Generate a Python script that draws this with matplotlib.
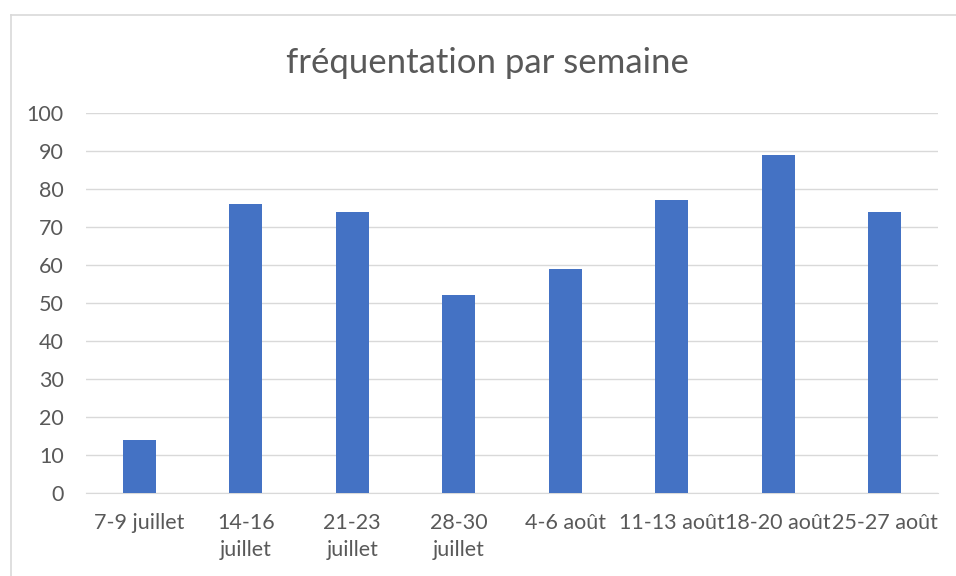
import matplotlib.pyplot as plt
from matplotlib.lines import Line2D

semaines = ["7-9 juillet", "14-16\njuillet", "21-23\njuillet", "28-30\njuillet",
            "4-6 août", "11-13 août", "18-20 août", "25-27 août"]
frequentation = [14, 76, 74, 52, 59, 77, 89, 74]
graduations = list(range(0, 101, 10))

plt.rcParams["font.family"] = ["Lato", "DejaVu Sans"]

fig = plt.figure(figsize=(9.56, 5.76), dpi=100)
ax = fig.add_axes([0.09, 0.144, 0.891, 0.66])

x = list(range(len(semaines)))
ax.bar(x, frequentation, width=0.31, color="#4472C4", zorder=3)

ax.set_xlim(-0.5, len(semaines) - 0.5)
ax.set_ylim(0, 100)
ax.set_yticks(graduations)
ax.set_xticks(x)
ax.set_xticklabels(semaines, fontsize=15.5, color="#595959", va="top", linespacing=1.45)
ax.tick_params(axis="y", labelsize=15.5, labelcolor="#595959", length=0, pad=16)
ax.tick_params(axis="x", length=0, pad=14)

ax.grid(axis="y", color="#D9D9D9", linewidth=1, zorder=0)
for s in ["top", "right", "left"]:
    ax.spines[s].set_visible(False)
ax.spines["bottom"].set_color("#D9D9D9")

fig.suptitle("fréquentation par semaine", fontsize=25, color="#595959", x=0.51, y=0.918)

# cadre du graphique (coupé à droite et en bas)
x0, y0 = 10.5 / 956, 1 - 14.5 / 576
fig.lines.append(Line2D([x0, x0], [0, y0], transform=fig.transFigure, color="#D9D9D9", linewidth=1.2))
fig.lines.append(Line2D([x0, 1], [y0, y0], transform=fig.transFigure, color="#D9D9D9", linewidth=1.2))

fig.savefig("out.png", dpi=100)
